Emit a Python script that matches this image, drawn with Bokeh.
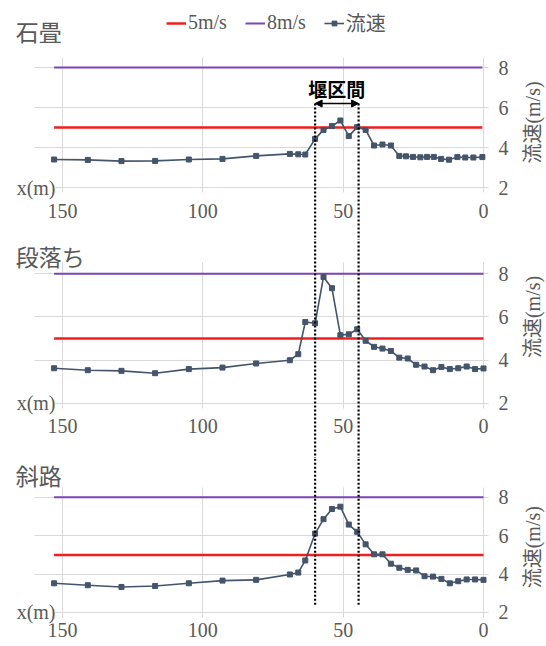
import math
from bokeh.plotting import figure
from bokeh.layouts import column
from bokeh.models import (Range1d, FixedTicker, Label, Legend, LegendItem, Arrow, NormalHead)
from bokeh.core.properties import value
from bokeh.embed import file_html
from bokeh.resources import INLINE

# ---------------- data ----------------
panel_titles = ["石畳", "段落ち", "斜路"]
legend_labels = ["5m/s", "8m/s", "流速"]
thresholds = [5, 8]
weir = [60, 44.5]          # 堰区間 (m)
x_ticks = [0, 50, 100, 150]
y_ticks = [2, 4, 6, 8]

x_ishidatami = [153, 141, 129, 117, 105, 93, 81, 69, 66, 63.5, 60, 57, 54, 51, 48, 45,
                42, 39, 36, 33, 30, 27.6, 25.1, 22.5, 20.1, 17.7, 15.1, 12.3, 9.3, 6.5, 3.6, 0.4]
v_ishidatami = [3.40, 3.38, 3.32, 3.33, 3.40, 3.43, 3.58, 3.68, 3.66, 3.65, 4.43, 4.88, 5.07,
                5.35, 4.57, 5.02, 4.88, 4.10, 4.15, 4.10, 3.58, 3.56, 3.53, 3.51, 3.53, 3.53,
                3.43, 3.39, 3.52, 3.50, 3.50, 3.52]

x_common = [153, 141, 129, 117, 105, 93, 81, 69, 66, 63.5, 60, 57, 54, 51, 48, 45, 42, 39,
            36, 33, 30, 27, 24, 21, 18, 15, 12, 9, 6, 3, 0]
v_danochi = [3.63, 3.54, 3.51, 3.40, 3.59, 3.66, 3.85, 4.00, 4.28, 5.77, 5.71, 7.85, 7.33,
             5.16, 5.20, 5.43, 4.90, 4.62, 4.54, 4.43, 4.12, 4.08, 3.79, 3.71, 3.54, 3.69,
             3.59, 3.63, 3.71, 3.59, 3.62]
v_shaji = [3.52, 3.42, 3.33, 3.38, 3.52, 3.66, 3.70, 3.98, 4.08, 4.71, 6.11, 6.86, 7.39,
           7.51, 6.58, 6.20, 5.55, 5.03, 5.03, 4.54, 4.33, 4.22, 4.19, 3.89, 3.87, 3.75,
           3.52, 3.63, 3.72, 3.72, 3.70]

# ---------------- style ----------------
SERIF = "Liberation Serif, Noto Sans CJK JP"
CJK = "Noto Sans CJK JP"
GRAY = "#595959"
RED = "#F01E1E"
PURPLE = "#7D44B8"
NAVY = "#44546A"
GRID = "#D9D9D9"


def make_panel(title, xs, vs, height, y_start, y_end, x_standoff, title_y, ylabel_y,
               first=False, last=False):
    # the frame fills the whole canvas; axes only supply the tick labels
    p = figure(width=546, height=height, x_range=Range1d(172.1, -22.45),
               y_range=Range1d(y_start, y_end),
               y_axis_location="right", output_backend="svg", toolbar_location=None,
               min_border_left=0, min_border_right=0, min_border_top=0, min_border_bottom=0)
    p.outline_line_color = None
    p.background_fill_color = "white"
    p.border_fill_color = "white"

    xax = p.xaxis[0]
    yax = p.yaxis[0]
    xax.ticker = FixedTicker(ticks=x_ticks)
    yax.ticker = FixedTicker(ticks=y_ticks)
    for ax in (xax, yax):
        ax.axis_line_color = None
        ax.major_tick_line_color = None
        ax.minor_tick_line_color = None
        ax.major_tick_in = 0
        ax.major_tick_out = 0
        ax.minor_tick_in = 0
        ax.minor_tick_out = 0
        ax.major_label_text_font = "Liberation Serif"
        ax.major_label_text_font_size = "20px"
        ax.major_label_text_color = GRAY
    xax.bounds = (0, 160)
    xax.major_label_standoff = x_standoff
    yax.bounds = (2, 8)
    yax.major_label_standoff = -48

    p.xgrid.grid_line_color = GRID
    p.ygrid.grid_line_color = GRID
    p.xgrid[0].cross_bounds = (1.75, 8.5)
    p.ygrid[0].cross_bounds = (160, -1.8)

    xs_thr = [max(xs), min(xs)]
    r5 = p.line(xs_thr, [thresholds[0]] * 2, line_color=RED, line_width=2.5)
    r8 = p.line(xs_thr, [thresholds[1]] * 2, line_color=PURPLE, line_width=2)
    rl = p.line(xs, vs, line_color=NAVY, line_width=1.6)
    rp = p.scatter(xs, vs, marker="square", size=5, color=NAVY)

    # weir dotted lines
    y_from = 6.2 if first else 40
    y_to = 2.36 if last else -40
    for w in weir:
        p.add_layout(Arrow(x_start=w, y_start=y_from, x_end=w, y_end=y_to, start=None, end=None,
                           line_color="black", line_width=2.2, line_dash="2 2"))

    # panel title
    p.add_layout(Label(x=166.7, y=title_y, text=title, text_align="left",
                       text_baseline="middle", text_font=CJK, text_font_size="23px",
                       text_color=GRAY))
    # x(m)
    p.add_layout(Label(x=152.5, y=2, text="x(m)", text_align="right", text_baseline="middle",
                       text_font="Liberation Serif", text_font_size="20px", text_color=GRAY,
                       background_fill_color="white"))
    # y axis title, reading bottom to top
    p.add_layout(Label(x=-17.8, y=ylabel_y, text="流速(m/s)", angle=math.pi / 2,
                       text_align="center", text_baseline="middle", text_font=SERIF,
                       text_font_size="20px", text_color=GRAY))

    if first:
        p.add_layout(Arrow(x_start=weir[0], y_start=6.2, x_end=weir[1], y_end=6.2,
                           start=NormalHead(size=7, fill_color="black", line_color="black"),
                           end=NormalHead(size=7, fill_color="black", line_color="black"),
                           line_color="black", line_width=1.5))
        p.add_layout(Label(x=(weir[0] + weir[1]) / 2, y=6.95, text="堰区間", text_align="center",
                           text_baseline="middle", text_font=CJK, text_font_size="19px",
                           text_font_style="bold", text_color="black"))
        legend = Legend(items=[LegendItem(label=value(legend_labels[0]), renderers=[r5]),
                               LegendItem(label=value(legend_labels[1]), renderers=[r8]),
                               LegendItem(label=value(legend_labels[2]), renderers=[rl, rp])],
                        orientation="horizontal", location=(166, 203))
        legend.border_line_color = None
        legend.background_fill_alpha = 0
        legend.padding = 0
        legend.margin = 0
        legend.spacing = 18
        legend.glyph_width = 20
        legend.glyph_height = 12
        legend.label_height = 20
        legend.label_standoff = 2
        legend.label_text_font = SERIF
        legend.label_text_font_size = "20px"
        legend.label_text_color = GRAY
        p.add_layout(legend)
    return p


p1 = make_panel(panel_titles[0], x_ishidatami, v_ishidatami, 240, -0.65, 11.35, -37,
                9.85, 5.25, first=True)
p2 = make_panel(panel_titles[1], x_common, v_danochi, 218, -0.543, 9.536, -40, 8.84, 6.0)
p3 = make_panel(panel_titles[2], x_common, v_shaji, 188, 0.229, 10.02, -24, 9.14, 5.4,
                last=True)

layout = column(p1, p2, p3, spacing=0)
open("out.html", "w").write(file_html(layout, INLINE))
